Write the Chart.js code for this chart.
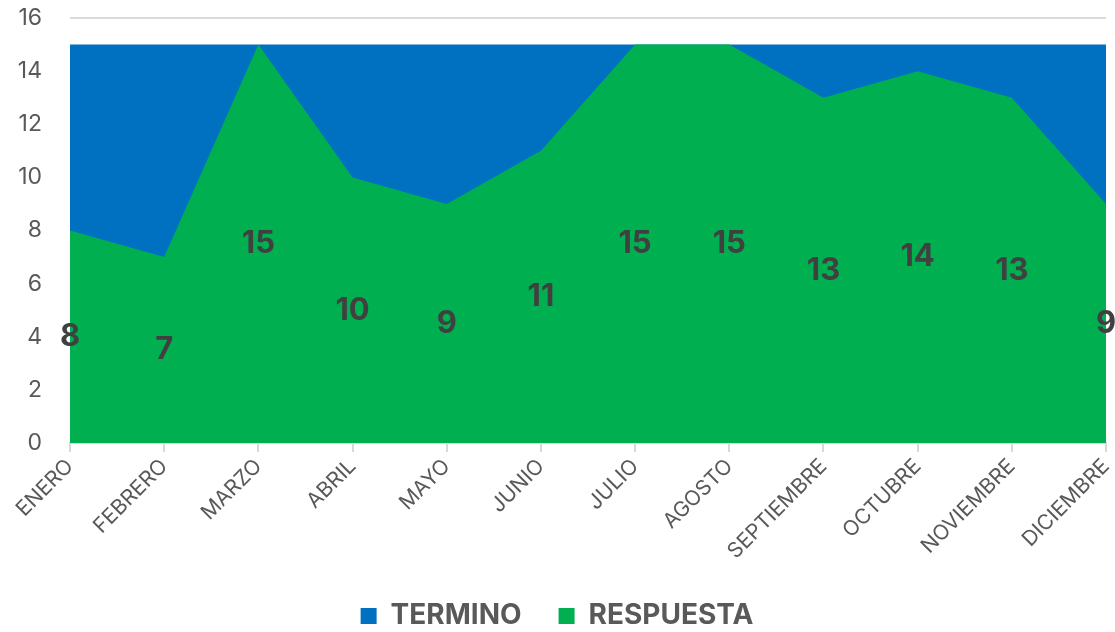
<!DOCTYPE html>
<html>
<head>
<meta charset="utf-8">
<script src="https://cdn.jsdelivr.net/npm/chart.js@4.4.1/dist/chart.umd.min.js"></script>
<style>
  html, body { margin: 0; padding: 0; background: #fff; }
  #wrap { width: 1115px; height: 632px; }
</style>
</head>
<body>
<div id="wrap"><canvas id="area"></canvas></div>
<script>
// Datos del gráfico
var meses = ['ENERO', 'FEBRERO', 'MARZO', 'ABRIL', 'MAYO', 'JUNIO', 'JULIO',
             'AGOSTO', 'SEPTIEMBRE', 'OCTUBRE', 'NOVIEMBRE', 'DICIEMBRE'];
var termino = [15, 15, 15, 15, 15, 15, 15, 15, 15, 15, 15, 15];
var respuesta = [8, 7, 15, 10, 9, 11, 15, 15, 13, 14, 13, 9];
var ticksY = [0, 2, 4, 6, 8, 10, 12, 14, 16];

// Etiquetas de valor en el centro del área verde
var etiquetas = {
    id: 'etiquetas',
    afterDatasetsDraw: function (chart) {
        var ctx = chart.ctx;
        var meta = chart.getDatasetMeta(1);
        var y = chart.scales.y;
        ctx.save();
        ctx.font = 'bold 31px Inter';
        ctx.fillStyle = '#404040';
        ctx.textAlign = 'center';
        ctx.textBaseline = 'middle';
        meta.data.forEach(function (p, i) {
            ctx.fillText(String(respuesta[i]), p.x, y.getPixelForValue(respuesta[i] / 2));
        });
        ctx.restore();
    }
};

var ctx = document.getElementById('area').getContext('2d');
var grafico = new Chart(ctx, {
    type: 'line',
    data: {
        labels: meses,
        datasets: [{
            label: 'TERMINO',
            data: termino,
            backgroundColor: '#0070C0',
            borderColor: '#0070C0',
            borderWidth: 0,
            pointRadius: 0,
            fill: 'origin',
            order: 1
        }, {
            label: 'RESPUESTA',
            data: respuesta,
            backgroundColor: '#00B050',
            borderColor: '#00B050',
            borderWidth: 0,
            pointRadius: 0,
            fill: 'origin',
            order: 0
        }]
    },
    options: {
        responsive: true,
        maintainAspectRatio: false,
        animation: false,
        layout: { padding: { left: 8, right: 9, top: 18, bottom: -8 } },
        plugins: {
            tooltip: { enabled: false },
            legend: {
                position: 'bottom',
                labels: {
                    boxWidth: 16,
                    boxHeight: 16,
                    padding: 37,
                    color: '#595959',
                    font: { family: 'Inter', size: 28, weight: 'bold' },
                    sort: function (a, b) { return a.datasetIndex - b.datasetIndex; }
                }
            }
        },
        scales: {
            x: {
                offset: false,
                afterFit: function (s) {
                    s.height = 122;
                    s.paddingRight = 0;
                },
                border: { display: true, color: '#d9d9d9', width: 2 },
                grid: { drawOnChartArea: false, color: '#d9d9d9', lineWidth: 2, tickLength: 9 },
                ticks: {
                    minRotation: 45,
                    maxRotation: 45,
                    color: '#595959',
                    font: { family: 'Inter', size: 21 },
                    padding: 2
                }
            },
            y: {
                min: 0,
                max: 16,
                afterBuildTicks: function (s) {
                    s.ticks = ticksY.map(function (v) { return { value: v }; });
                },
                afterFit: function (s) {
                    s.width = 62;
                    s.paddingTop = 0;
                    s.paddingBottom = 0;
                },
                border: { display: false },
                grid: { color: '#d9d9d9', lineWidth: 2, drawTicks: false },
                ticks: {
                    color: '#595959',
                    font: { family: 'Inter', size: 23 },
                    padding: 28
                }
            }
        }
    },
    plugins: [etiquetas]
});
</script>
</body>
</html>
